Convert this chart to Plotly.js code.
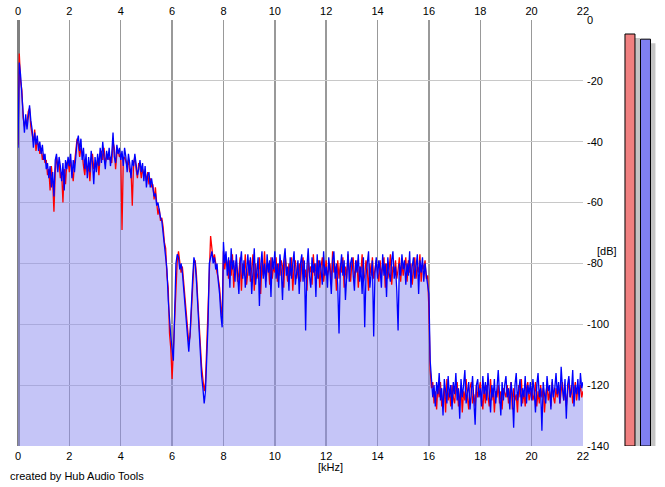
<!DOCTYPE html>
<html>
<head>
<meta charset="utf-8">
<script src="https://cdn.plot.ly/plotly-3.0.1.min.js"></script>
<style>html,body{margin:0;padding:0;background:#fff;}#chart{width:665px;height:487px;}</style>
</head>
<body>
<div id="chart"></div>
<script>
// Frequency bins: 0 .. 22 kHz, 0.05 kHz apart (441 bins)
var binStepKHz = 0.05;
var binCount = 441;

// Channel spectra in dB (one row of values per kHz, 20 bins per row)
var blueDb = [
 -42,-14,-18,-25,-30,-37,-31,-36,-32,-28,-33,-36,-42,-37,-41,-38,-43,-40,-44,-41,
 -46,-44,-49,-47,-52,-48,-55,-50,-58,-46,-44,-50,-45,-48,-53,-47,-56,-46,-49,-45,
 -48,-44,-52,-46,-50,-44,-40,-38,-43,-39,-46,-42,-49,-44,-52,-45,-50,-43,-47,-54,
 -45,-50,-44,-48,-42,-47,-40,-45,-49,-43,-46,-42,-48,-44,-37,-45,-47,-41,-44,-42,
 -46,-43,-48,-42,-45,-50,-44,-47,-52,-46,-48,-44,-47,-51,-49,-46,-50,-47,-53,-48,
 -55,-51,-50,-55,-52,-56,-58,-57,-61,-60,-63,-65,-66,-70,-72,-77,-82,-92,-100,-104,
 -108,-112,-96,-80,-77,-78,-82,-80,-83,-88,-92,-98,-104,-109,-103,-92,-85,-78,-80,-86,
 -95,-103,-110,-117,-121,-126,-122,-112,-100,-80,-78,-76,-80,-78,-82,-80,-86,-90,-97,-101,
 -73,-80,-76,-84,-78,-88,-75,-82,-79,-86,-77,-83,-90,-80,-76,-85,-79,-88,-81,-77,
 -84,-78,-90,-80,-75,-87,-82,-78,-94,-81,-76,-85,-80,-88,-77,-83,-79,-91,-78,-82,
 -76,-85,-80,-88,-77,-82,-92,-79,-75,-84,-81,-89,-78,-85,-80,-76,-87,-82,-79,-90,
 -80,-77,-86,-79,-102,-81,-75,-84,-88,-78,-83,-80,-91,-77,-85,-79,-82,-87,-76,-84,
 -81,-88,-78,-83,-90,-79,-76,-85,-80,-87,-103,-82,-77,-84,-79,-92,-81,-76,-86,-80,
 -78,-84,-89,-79,-83,-77,-86,-81,-90,-78,-101,-84,-80,-76,-88,-82,-79,-104,-83,-78,
 -85,-79,-82,-88,-77,-84,-80,-91,-78,-83,-86,-79,-76,-85,-81,-89,-102,-80,-84,-77,
 -82,-79,-87,-80,-84,-76,-88,-81,-78,-85,-80,-77,-90,-79,-83,-78,-86,-80,-84,-88,
 -90,-112,-118,-124,-120,-127,-119,-123,-116,-125,-121,-130,-118,-122,-126,-117,-124,-120,-128,-119,
 -123,-116,-125,-121,-131,-118,-124,-120,-115,-126,-122,-119,-128,-121,-117,-125,-133,-120,-118,-124,
 -121,-127,-117,-123,-119,-125,-116,-122,-129,-120,-124,-118,-126,-121,-115,-123,-130,-119,-125,-120,
 -117,-124,-121,-128,-119,-123,-134,-120,-116,-125,-122,-118,-127,-121,-124,-117,-126,-120,-123,-119,
 -125,-118,-122,-129,-120,-116,-124,-121,-135,-119,-123,-126,-117,-122,-120,-128,-118,-124,-121,-116,
 -123,-119,-126,-114,-121,-125,-118,-131,-120,-117,-124,-122,-115,-127,-120,-123,-118,-125,-116,-121,
 -119
];

var redDb = [
 -41,-11,-20,-23,-32,-35,-33,-34,-30,-29,-35,-38,-40,-36,-43,-40,-41,-44,-42,-46,
 -44,-47,-46,-51,-49,-56,-48,-53,-63,-50,-45,-48,-47,-52,-50,-60,-49,-54,-47,-46,
 -50,-46,-49,-53,-47,-42,-39,-41,-45,-42,-44,-48,-51,-46,-50,-48,-53,-46,-44,-49,
 -47,-48,-46,-51,-44,-43,-46,-42,-47,-45,-44,-46,-45,-47,-40,-42,-49,-44,-43,-45,
 -44,-69,-46,-45,-47,-48,-46,-50,-49,-61,-47,-45,-49,-52,-47,-48,-52,-49,-51,-50,
 -53,-50,-54,-52,-55,-54,-59,-55,-60,-64,-62,-66,-65,-68,-73,-75,-84,-88,-103,-108,
 -118,-107,-100,-84,-79,-76,-80,-83,-81,-86,-90,-96,-101,-106,-104,-95,-88,-80,-79,-84,
 -92,-100,-108,-114,-118,-122,-119,-108,-96,-82,-71,-75,-79,-77,-81,-83,-85,-88,-94,-98,
 -76,-82,-78,-80,-85,-79,-84,-77,-88,-81,-79,-86,-83,-78,-89,-80,-84,-77,-87,-82,
 -79,-86,-81,-77,-89,-80,-85,-83,-78,-90,-79,-84,-76,-86,-82,-80,-87,-78,-85,-81,
 -83,-78,-86,-80,-84,-79,-81,-88,-77,-82,-86,-80,-84,-78,-89,-81,-79,-85,-82,-80,
 -86,-80,-78,-85,-82,-89,-79,-83,-81,-87,-77,-84,-80,-85,-79,-88,-81,-78,-86,-82,
 -79,-84,-82,-80,-87,-76,-83,-81,-89,-79,-85,-80,-83,-78,-88,-81,-85,-77,-82,-86,
 -80,-78,-85,-82,-79,-88,-81,-83,-77,-86,-84,-79,-82,-89,-80,-84,-78,-85,-81,-79,
 -83,-86,-79,-84,-81,-78,-88,-80,-85,-82,-77,-87,-81,-83,-79,-85,-82,-78,-86,-80,
 -84,-81,-78,-86,-79,-83,-80,-87,-82,-78,-85,-81,-83,-77,-86,-80,-82,-79,-85,-84,
 -95,-115,-121,-119,-126,-122,-128,-120,-124,-119,-127,-123,-121,-129,-118,-125,-122,-127,-120,-124,
 -126,-121,-119,-127,-123,-120,-129,-122,-125,-118,-124,-128,-121,-119,-126,-123,-127,-120,-124,-122,
 -119,-124,-128,-121,-126,-120,-123,-127,-118,-125,-121,-129,-122,-124,-120,-126,-122,-128,-121,-123,
 -124,-120,-126,-122,-119,-128,-121,-125,-123,-129,-120,-124,-118,-126,-122,-127,-121,-119,-125,-123,
 -121,-125,-123,-119,-127,-122,-126,-120,-124,-121,-129,-123,-120,-125,-122,-127,-119,-124,-126,-121,
 -124,-120,-126,-122,-119,-125,-121,-127,-123,-118,-124,-120,-126,-122,-119,-125,-121,-123,-120,-124,
 -122
];

var xTickVals = [0,2,4,6,8,10,12,14,16,18,20,22];
var yTickVals = [0,-20,-40,-60,-80,-100,-120,-140];
var xRange = [0, 22];
var yRange = [-140, 0];

// Level meters on the right
var meterChannels = [0, 1];
var meterLevelsDb = [-4.6, -6.3];
var meterColors = ['#f08080', '#8080f0'];

var freqKHz = [];
for (var i = 0; i < binCount; i++) freqKHz.push(Math.round(i * binStepKHz * 100) / 100);
var floorLine = freqKHz.map(function(){ return yRange[0]; });

var fontFam = 'Liberation Sans, Arial, sans-serif';
var shadowDrop = 1.3;
var barW = 0.645;

var traces = [
  {x: freqKHz, y: floorLine, mode: 'lines', line: {width: 0}, hoverinfo: 'skip', showlegend: false},
  {x: freqKHz, y: blueDb, mode: 'lines', fill: 'tonexty', fillcolor: 'rgba(140,140,240,0.5)', line: {width: 0}, showlegend: false},
  {x: freqKHz, y: redDb, mode: 'lines', line: {color: '#ff0000', width: 1.3}, showlegend: false},
  {x: freqKHz, y: blueDb, mode: 'lines', line: {color: '#0000ff', width: 1.3}, showlegend: false},
  {type: 'bar', x: meterChannels, y: meterLevelsDb.map(function(v){return v - yRange[0];}),
   base: yRange[0] - shadowDrop, offset: -barW/2 + 0.32, width: barW,
   marker: {color: '#c4c4c4', line: {width: 0}}, xaxis: 'x3', yaxis: 'y3', cliponaxis: false, showlegend: false},
  {type: 'bar', x: meterChannels, y: meterLevelsDb.map(function(v){return v - yRange[0];}),
   base: yRange[0], offset: -barW/2, width: barW,
   marker: {color: meterColors, line: {width: 1, color: '#000'}}, xaxis: 'x3', yaxis: 'y3', cliponaxis: false, showlegend: false}
];

var layout = {
  width: 665, height: 487,
  margin: {l: 18, r: 7, t: 20, b: 41, pad: 0},
  paper_bgcolor: '#fff', plot_bgcolor: '#fff',
  font: {family: fontFam, size: 11, color: '#000'},
  barmode: 'overlay',
  showlegend: false,
  xaxis: {
    domain: [0, 0.8828], range: xRange, tickvals: xTickVals, ticktext: xTickVals.map(String),
    showgrid: true, gridcolor: '#999', gridwidth: 1.5,
    zeroline: true, zerolinecolor: '#808080', zerolinewidth: 3,
    showline: false, ticks: '', ticklabelstandoff: 2, tickfont: {size: 11, family: fontFam}, fixedrange: true
  },
  xaxis2: {
    overlaying: 'x', side: 'top', range: xRange, tickvals: xTickVals, ticktext: xTickVals.map(String),
    showgrid: false, zeroline: false, ticks: '', ticklabelstandoff: 2, tickfont: {size: 11, family: fontFam}, anchor: 'y'
  },
  yaxis: {
    side: 'right', range: yRange, tickvals: yTickVals, ticktext: yTickVals.map(String),
    showgrid: true, gridcolor: '#c8c8c8', gridwidth: 1, zeroline: false,
    ticks: '', ticklabelstandoff: 3, tickfont: {size: 11, family: fontFam}
  },
  xaxis3: {domain: [0.9441, 1.0], range: [-0.5, 1.806], visible: false, anchor: 'y3'},
  yaxis3: {domain: [0, 1], range: yRange, visible: false, anchor: 'x3'},
  annotations: [
    {text: '[kHz]', xref: 'paper', yref: 'paper', x: 0.488, y: 0, yshift: -21, xanchor: 'center', yanchor: 'middle', showarrow: false, font: {size: 11}},
    {text: '[dB]', xref: 'paper', yref: 'paper', x: 0.921, y: 0.5, yshift: -18, xanchor: 'center', yanchor: 'middle', showarrow: false, font: {size: 11}},
    {text: 'created by Hub Audio Tools', xref: 'paper', yref: 'paper', x: -0.016, y: 0, yshift: -29.5, xanchor: 'left', yanchor: 'middle', showarrow: false, font: {size: 11}}
  ]
};

// top axis needs a (hidden) trace to render
traces.push({x: xRange, y: yRange, xaxis: 'x2', mode: 'markers', marker: {opacity: 0}, hoverinfo: 'skip', showlegend: false});

Plotly.newPlot('chart', traces, layout, {staticPlot: true, displayModeBar: false});
</script>
</body>
</html>
